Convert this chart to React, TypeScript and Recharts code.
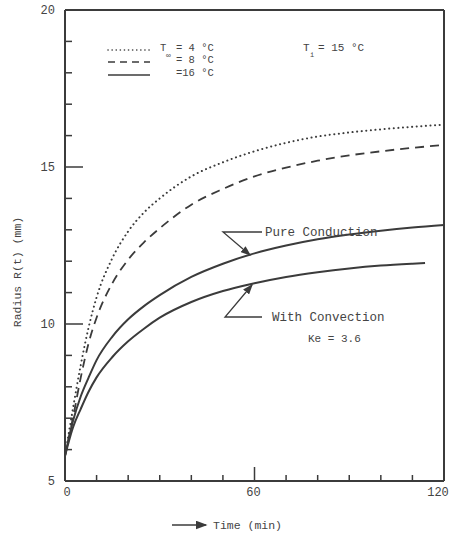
import { LineChart, Line, XAxis, YAxis, ReferenceLine } from 'recharts';

const INK = '#3b3b3b';
const FONT = '"Liberation Mono", "DejaVu Sans Mono", monospace';

// time axis (min) and radius values (mm)
const TIMES = [0, 2.5, 5, 7.5, 10, 15, 20, 25, 30, 40, 50, 60, 70, 80, 90, 100, 110, 120];
const R_T4 = [5.8, 7.3, 8.7, 9.9, 10.85, 12.1, 12.95, 13.55, 14.0, 14.7, 15.15, 15.5, 15.77, 15.97, 16.1, 16.2, 16.28, 16.35];
const R_T8 = [5.8, 7.0, 8.3, 9.4, 10.2, 11.3, 12.05, 12.6, 13.05, 13.8, 14.3, 14.7, 14.98, 15.2, 15.37, 15.5, 15.61, 15.7];
const R_PURE = [5.8, 6.9, 7.7, 8.3, 8.85, 9.6, 10.15, 10.57, 10.92, 11.5, 11.92, 12.25, 12.5, 12.7, 12.85, 12.97, 13.07, 13.15];

const CONV_TIMES = [0, 2.5, 5, 7.5, 10, 15, 20, 25, 30, 40, 50, 60, 70, 80, 90, 100, 110, 114];
const R_CONV = [5.8, 6.7, 7.3, 7.85, 8.3, 8.95, 9.45, 9.85, 10.2, 10.7, 11.05, 11.3, 11.5, 11.65, 11.77, 11.86, 11.92, 11.94];

const X_TICKS = [0, 10, 20, 30, 40, 50, 60, 70, 80, 90, 100, 110, 120];
const X_LABELS = [0, 60, 120];
const Y_TICKS = [5, 6, 7, 8, 9, 10, 11, 12, 13, 14, 15, 16, 17, 18, 19, 20];
const Y_LABELS = [5, 10, 15, 20];

const toSeries = (times: number[], vals: number[]) => times.map((t, i) => ({ t, v: vals[i] }));

const seriesT4 = toSeries(TIMES, R_T4);
const seriesT8 = toSeries(TIMES, R_T8);
const seriesPure = toSeries(TIMES, R_PURE);
const seriesConv = toSeries(CONV_TIMES, R_CONV);

function YTick(props: any) {
  const { x, y, payload } = props;
  const major = Y_LABELS.includes(payload.value);
  return (
    <g>
      {payload.value !== 5 && payload.value !== 20 && (
        <line x1={x} y1={y} x2={x + (major ? 18 : 7)} y2={y} stroke={INK} strokeWidth={1.5} />
      )}
      {major && (
        <text x={x - 10} y={y + 4} textAnchor="end" fontSize={12} fontFamily={FONT} fill="#444">
          {payload.value}
        </text>
      )}
    </g>
  );
}

function XTick(props: any) {
  const { x, y, payload } = props;
  const v = payload.value;
  const label = X_LABELS.includes(v);
  return (
    <g>
      {v !== 0 && v !== 120 && (
        <line x1={x} y1={y} x2={x} y2={y - (v === 60 ? 14 : 6)} stroke={INK} strokeWidth={1.5} />
      )}
      {label && (
        <text x={v === 120 ? x - 6 : x + (v === 0 ? 2 : -1)} y={y + 15} textAnchor="middle" fontSize={12} fontFamily={FONT} fill="#444">
          {v}
        </text>
      )}
    </g>
  );
}

export default function App() {
  return (
    <div style={{ position: 'absolute', left: 0, top: 0, width: 458, height: 541, background: '#fff' }}>
      <LineChart width={458} height={541} margin={{ top: 10, right: 14, bottom: 30, left: 25 }}>
        <XAxis
          type="number"
          dataKey="t"
          domain={[0, 120]}
          ticks={X_TICKS}
          tick={<XTick />}
          tickLine={false}
          tickSize={0}
          tickMargin={0}
          height={30}
          axisLine={{ stroke: INK, strokeWidth: 2 }}
          allowDuplicatedCategory={false}
        />
        <YAxis
          type="number"
          domain={[5, 20]}
          ticks={Y_TICKS}
          tick={<YTick />}
          tickLine={false}
          tickSize={0}
          tickMargin={0}
          width={40}
          interval={0}
          axisLine={{ stroke: INK, strokeWidth: 2 }}
        />
        <ReferenceLine y={20} stroke={INK} strokeWidth={2} />
        <ReferenceLine x={120} stroke={INK} strokeWidth={2} />
        <Line data={seriesT4} dataKey="v" type="monotone" stroke={INK} strokeWidth={2}
          strokeDasharray="0.1 4.5" strokeLinecap="round" dot={false} isAnimationActive={false} />
        <Line data={seriesT8} dataKey="v" type="monotone" stroke={INK} strokeWidth={1.8}
          strokeDasharray="9 6" dot={false} isAnimationActive={false} />
        <Line data={seriesPure} dataKey="v" type="monotone" stroke={INK} strokeWidth={2}
          dot={false} isAnimationActive={false} />
        <Line data={seriesConv} dataKey="v" type="monotone" stroke={INK} strokeWidth={2}
          dot={false} isAnimationActive={false} />
      </LineChart>

      <svg width={458} height={541} style={{ position: 'absolute', left: 0, top: 0, pointerEvents: 'none' }}>
        <defs>
          <marker id="ah" markerWidth="8" markerHeight="6" refX="7" refY="3" orient="auto">
            <path d="M0,0 L8,3 L0,6 z" fill={INK} />
          </marker>
        </defs>
        <g fontFamily={FONT} fill="#444" fontSize={10.5}>
          {/* legend */}
          <line x1={108} y1={50} x2={150} y2={50} stroke={INK} strokeWidth={1.6} strokeDasharray="0.1 4" strokeLinecap="round" />
          <text x={160} y={51}>T</text>
          <text x={166} y={58} fontSize={8}>∞</text>
          <text x={176} y={51}>= 4 °C</text>
          <line x1={108} y1={62} x2={150} y2={62} stroke={INK} strokeWidth={1.4} strokeDasharray="7 5" />
          <text x={176} y={63}>= 8 °C</text>
          <line x1={108} y1={75} x2={150} y2={75} stroke={INK} strokeWidth={1.6} />
          <text x={176} y={76}>=16 °C</text>

          <text x={303} y={51} fontSize={11}>T</text>
          <text x={310} y={57} fontSize={7}>i</text>
          <text x={318} y={51} fontSize={11}>= 15 °C</text>

          {/* annotations */}
          <polyline points="262,232 223,232 250,255" fill="none" stroke={INK} strokeWidth={1.3} markerEnd="url(#ah)" />
          <text x={265} y={236} fontSize={12.5}>Pure Conduction</text>
          <polyline points="262,317 225,317 252,285" fill="none" stroke={INK} strokeWidth={1.3} markerEnd="url(#ah)" />
          <text x={272} y={321} fontSize={12.5}>With Convection</text>
          <text x={308} y={342} fontSize={11}>Ke = 3.6</text>

          {/* axis titles */}
          <text x={21} y={272} textAnchor="middle" fontSize={11.5} transform="rotate(-90 21 272)">Radius R(t)  (mm)</text>
          <line x1={172} y1={525} x2={206} y2={525} stroke={INK} strokeWidth={1.5} markerEnd="url(#ah)" />
          <text x={213} y={529} fontSize={11.5}>Time (min)</text>
        </g>
      </svg>
    </div>
  );
}
